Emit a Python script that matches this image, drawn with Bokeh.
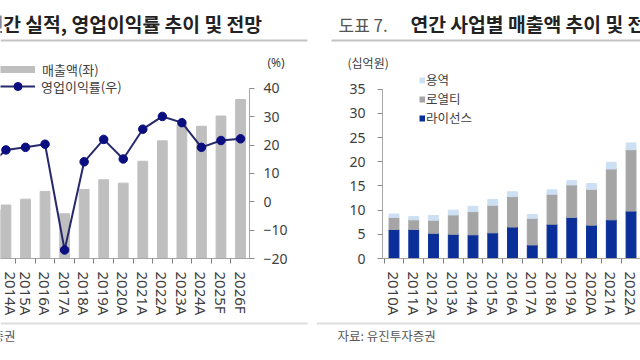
from bokeh.plotting import figure
from bokeh.models import (Range1d, LinearAxis, FixedTicker, Label, Legend, LegendItem,
                          BoxAnnotation, ColumnDataSource)
from bokeh.layouts import row, column
from bokeh.embed import file_html
from bokeh.resources import INLINE

# ---------------- data ----------------
# Left chart: 연간 실적 (매출액, 십억원) and 영업이익률 (%)
years_left = ["2013A", "2014A", "2015A", "2016A", "2017A", "2018A", "2019A",
              "2020A", "2021A", "2022A", "2023A", "2024A", "2025F", "2026F"]
sales = [10.0, 11.0, 12.2, 13.8, 9.2, 14.2, 16.2, 15.5, 20.0, 24.2, 27.5, 27.2, 29.3, 32.7]
op_margin = [12.0, 18.3, 19.2, 20.3, -17.0, 14.1, 22.0, 15.1, 25.6, 30.1, 27.9, 19.2, 21.6, 22.2]
pct_ticks = [-20, -10, 0, 10, 20, 30, 40]
sales_max = 35

# Right chart: 연간 사업별 매출액 (십억원)
years_right = ["2010A", "2011A", "2012A", "2013A", "2014A", "2015A", "2016A",
               "2017A", "2018A", "2019A", "2020A", "2021A", "2022A"]
license_rev = [6.0, 6.0, 5.2, 5.0, 4.9, 5.3, 6.5, 2.8, 7.1, 8.5, 6.9, 8.0, 9.8]
royalty_rev = [2.5, 2.0, 2.7, 4.0, 4.8, 5.7, 6.3, 5.5, 6.2, 6.7, 7.4, 10.5, 12.7]
service_rev = [0.7, 0.7, 1.0, 1.0, 1.1, 1.2, 1.0, 0.8, 0.9, 0.9, 1.2, 1.4, 1.4]
krw_ticks = [0, 5, 10, 15, 20, 25, 30, 35]

KR = "Noto Sans CJK KR"
LAT = "Noto Sans"
TXT = "#404040"
AX = "#A6A6A6"
NAN = float("nan")


def label(p, text, x, y, size, color=TXT, bold=False, align="left", font=KR):
    p.add_layout(Label(x=x, y=y, x_units="screen", y_units="screen", text=text,
                       text_font=font, text_font_size=size, text_color=color,
                       text_font_style="bold" if bold else "normal",
                       text_align=align, text_baseline="middle"))


def hline(p, left, right, y, color, thick=2):
    p.add_layout(BoxAnnotation(left=left, right=right, top=y + thick / 2, bottom=y - thick / 2,
                               left_units="screen", right_units="screen",
                               top_units="screen", bottom_units="screen",
                               fill_color=color, fill_alpha=1, line_color=None))


def canvas(w, h):
    c = figure(width=w, height=h, output_backend="svg", toolbar_location=None,
               x_range=Range1d(0, w), y_range=Range1d(0, h),
               x_axis_location=None, y_axis_location=None, frame_align=False,
               min_border_left=0, min_border_right=0, min_border_top=0, min_border_bottom=0)
    c.outline_line_color = None
    c.grid.visible = False
    return c


def legend(items, loc, gw, gh, lh, standoff, size):
    return Legend(items=items, location=loc, orientation="vertical", glyph_width=gw,
                  glyph_height=gh, label_height=lh, spacing=0, padding=0, margin=0,
                  label_standoff=standoff, border_line_color=None, background_fill_alpha=0,
                  label_text_font=KR, label_text_font_size=size, label_text_color=TXT)


def style_xaxis(ax, xs, names):
    ax.ticker = FixedTicker(ticks=xs, minor_ticks=[i - 0.5 for i in xs] + [xs[-1] + 0.5])
    ax.major_label_overrides = {i: n for i, n in zip(xs, names)}
    ax.major_tick_in = 0
    ax.major_tick_out = 0
    ax.minor_tick_in = 0
    ax.minor_tick_out = 5
    ax.minor_tick_line_color = "#7F7F7F"
    ax.axis_line_color = AX
    ax.major_label_orientation = "vertical"
    ax.major_label_standoff = 8
    ax.major_label_text_font = LAT
    ax.major_label_text_font_size = "15px"
    ax.major_label_text_color = TXT


def style_yaxis(ax, standoff):
    ax.major_tick_in = 0
    ax.major_tick_out = 5
    ax.minor_tick_line_color = None
    ax.major_tick_line_color = "#8C8C8C"
    ax.axis_line_color = AX
    ax.major_label_standoff = standoff
    ax.major_label_text_font = LAT
    ax.major_label_text_font_size = "14px"
    ax.major_label_text_color = TXT


# ---------------- left column ----------------
# header strip (title, rule, unit, first legend row)
tl = canvas(316, 79)
label(tl, "연간 실적, 영업이익률 추이 및 전망", -15, 55.5, "19.3px", color="#222222", bold=True)
hline(tl, 0, 307, 39, "#C4C4C4")
label(tl, "(%)", 267, 17, "12px", font=LAT)
sales_key = tl.line(x=[NAN], y=[NAN], line_width=7, color="#BFBFBF")
tl.add_layout(legend([LegendItem(label="매출액(좌)", renderers=[sales_key])],
                     (0, 0), 35, 20, 20, 7, "13px"))

# chart: frame spans page y 79..261, axis 40%/35 mark at y 88
f_top, f_bot, ax_top = 79, 261, 88
x_left = list(range(len(years_left)))
p1 = figure(width=316, height=239, output_backend="svg", toolbar_location=None,
            x_range=Range1d(0.721, 13.458),
            y_range=Range1d(0, sales_max * (f_bot - f_top) / (f_bot - ax_top)),
            y_axis_location=None, frame_align=False,
            min_border_left=0, min_border_right=67, min_border_top=0, min_border_bottom=57)
p1.extra_y_ranges = {"pct": Range1d(pct_ticks[0], pct_ticks[0] + (pct_ticks[-1] - pct_ticks[0])
                                    * (f_bot - f_top) / (f_bot - ax_top))}
p1.outline_line_color = None
p1.grid.visible = False

src1 = ColumnDataSource(dict(x=x_left, sales=sales, opm=op_margin))
p1.vbar(x="x", top="sales", bottom=0, width=0.5, color="#BFBFBF", source=src1)
ln = p1.line("x", "opm", y_range_name="pct", color="#262A6B", line_width=2, source=src1)
sc = p1.scatter("x", "opm", y_range_name="pct", size=8.5, color="#0B0E7F", source=src1)

style_xaxis(p1.xaxis[0], x_left, years_left)
ra = LinearAxis(y_range_name="pct", ticker=FixedTicker(ticks=pct_ticks),
                bounds=(pct_ticks[0], pct_ticks[-1]))
style_yaxis(ra, 9)
p1.add_layout(ra, "right")
p1.add_layout(legend([LegendItem(label="영업이익률(우)", renderers=[ln, sc])],
                     (0, 162), 35, 20, 20, 6, "13px"))

bl = canvas(316, 42)
hline(bl, 0, 307, 37, "#DDDDDD")
label(bl, "자료: 유진투자증권", 15, 25, "12.5px", color="#595959", align="right")

# ---------------- right column ----------------
tr = canvas(324, 71)
label(tr, "도표 7.", 22, 47.5, "17px", color="#555555")
label(tr, "연간 사업별 매출액 추이 및 전망", 94, 47.5, "19.3px", color="#222222", bold=True)
hline(tr, 15, 324, 31, "#C4C4C4")
label(tr, "(십억원)", 31, 9, "12px")

g_top, g_bot, gax_top = 71, 261, 89
x_right = list(range(len(years_right)))
p2 = figure(width=324, height=247, output_backend="svg", toolbar_location=None,
            x_range=Range1d(-0.582, 12.48),
            y_range=Range1d(0, krw_ticks[-1] * (g_bot - g_top) / (g_bot - gax_top)),
            frame_align=False,
            min_border_left=66, min_border_right=0, min_border_top=0, min_border_bottom=57)
p2.outline_line_color = None
p2.grid.visible = False

src2 = ColumnDataSource(dict(x=x_right, lic=license_rev, roy=royalty_rev, svc=service_rev))
bars = p2.vbar_stack(["lic", "roy", "svc"], x="x", width=0.5,
                     color=["#0A2F99", "#A5A5A5", "#CDE0F3"], source=src2)
k_svc = p2.line(x=[NAN], y=[NAN], line_width=6, color="#CDE0F3")
k_roy = p2.line(x=[NAN], y=[NAN], line_width=6, color="#A5A5A5")
k_lic = p2.line(x=[NAN], y=[NAN], line_width=6, color="#0A2F99")

style_xaxis(p2.xaxis[0], x_right, years_right)
p2.yaxis[0].ticker = FixedTicker(ticks=krw_ticks)
p2.yaxis[0].bounds = (krw_ticks[0], krw_ticks[-1])
style_yaxis(p2.yaxis[0], 12)
p2.add_layout(legend([LegendItem(label="용역", renderers=[k_svc]),
                      LegendItem(label="로열티", renderers=[k_roy]),
                      LegendItem(label="라이선스", renderers=[k_lic])],
                     (37, 131), 6, 18, 18, 1, "12.5px"))

br = canvas(324, 42)
hline(br, 0, 324, 37, "#DDDDDD")
label(br, "자료: 유진투자증권", 21, 25, "12.5px", color="#595959")

layout = row(column(tl, p1, bl), column(tr, p2, br))
open("out.html", "w").write(file_html(layout, INLINE))
